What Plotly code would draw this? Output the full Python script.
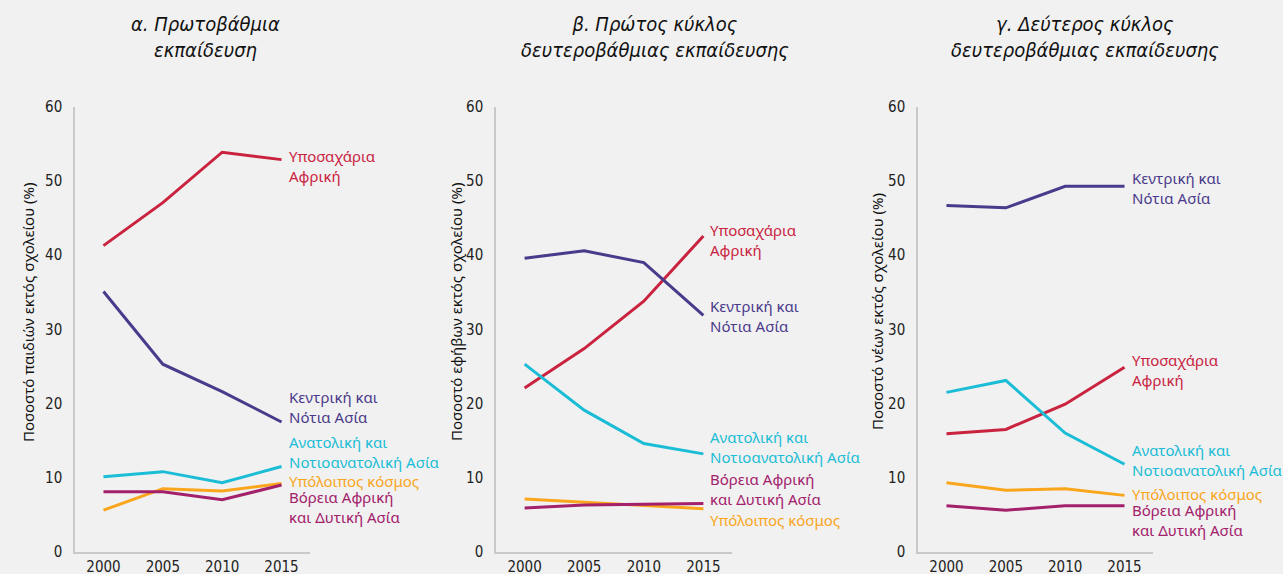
import plotly.graph_objects as go

years = [2000, 2005, 2010, 2015]

regions = ["Υποσαχάρια<br>Αφρική", "Κεντρική και<br>Νότια Ασία", "Ανατολική και<br>Νοτιοανατολική Ασία",
           "Υπόλοιπος κόσμος", "Βόρεια Αφρική<br>και Δυτική Ασία"]
colors = ["#c9233f", "#4a3a8b", "#1bbdd6", "#f9a61d", "#a3206b"]

# Panel a: primary
a_ssa = [41.3, 47.1, 53.9, 52.9]
a_csa = [35.1, 25.3, 21.6, 17.5]
a_esa = [10.1, 10.8, 9.3, 11.5]
a_row = [5.6, 8.5, 8.2, 9.2]
a_nawa = [8.1, 8.1, 7.0, 9.0]

# Panel b: lower secondary
b_ssa = [22.1, 27.4, 33.8, 42.6]
b_csa = [39.6, 40.6, 39.0, 31.9]
b_esa = [25.3, 19.1, 14.6, 13.2]
b_row = [7.1, 6.7, 6.3, 5.8]
b_nawa = [5.9, 6.3, 6.4, 6.5]

# Panel c: upper secondary
c_ssa = [15.9, 16.5, 19.9, 24.9]
c_csa = [46.7, 46.4, 49.3, 49.3]
c_esa = [21.5, 23.1, 16.0, 11.8]
c_row = [9.3, 8.3, 8.5, 7.6]
c_nawa = [6.2, 5.6, 6.2, 6.2]

panel_titles = ["<i>α. Πρωτοβάθμια<br>εκπαίδευση</i>",
                "<i>β. Πρώτος κύκλος<br>δευτεροβάθμιας εκπαίδευσης</i>",
                "<i>γ. Δεύτερος κύκλος<br>δευτεροβάθμιας εκπαίδευσης</i>"]
y_titles = ["Ποσοστό παιδιών εκτός σχολείου (%)",
            "Ποσοστό εφήβων εκτός σχολείου (%)",
            "Ποσοστό νέων εκτός σχολείου (%)"]
y_ticks = [0, 10, 20, 30, 40, 50, 60]

panels = [
    [a_ssa, a_csa, a_esa, a_row, a_nawa],
    [b_ssa, b_csa, b_esa, b_row, b_nawa],
    [c_ssa, c_csa, c_esa, c_row, c_nawa],
]
# label anchor heights (data units) for the end labels
label_y = [
    [52.0, 19.5, 13.5, 9.5, 6.0],
    [42.1, 31.8, 14.1, 4.3, 8.5],
    [24.5, 49.1, 12.4, 7.8, 4.3],
]

W, H = 1283, 574
x_px = [(75, 310), (496, 732), (918, 1153)]
y_top, y_bot = 107, 551.7
ydom = [(H - y_bot) / H, (H - y_top) / H]

tickfont = dict(family="Liberation Sans Narrow, DejaVu Sans Condensed, sans-serif", size=15, color="#222")
labfont_family = "Noto Sans, Open Sans, sans-serif"

fig = go.Figure()
layout = dict(
    width=W, height=H,
    paper_bgcolor="#f1f1f1", plot_bgcolor="#f1f1f1",
    margin=dict(l=0, r=0, t=0, b=0),
    showlegend=False,
)
annotations = []
for p in range(3):
    sfx = "" if p == 0 else str(p + 1)
    xa = "x" + sfx
    ya = "y" + sfx
    for i, series in enumerate(panels[p]):
        fig.add_trace(go.Scatter(x=years, y=series, mode="lines",
                                 line=dict(color=colors[i], width=3),
                                 xaxis=xa, yaxis=ya, hoverinfo="skip"))
        annotations.append(dict(x=years[-1], y=label_y[p][i], xref=xa, yref=ya,
                                text=regions[i], showarrow=False, xanchor="left", yanchor="middle",
                                xshift=5, align="left",
                                font=dict(family=labfont_family, size=15, color=colors[i])))
    x0, x1 = x_px[p]
    layout["xaxis" + sfx] = dict(
        domain=[x0 / W, x1 / W], range=[1997.6, 2017.4], anchor=ya,
        tickvals=years, showline=True, linecolor="#c9c9c9", linewidth=1.5,
        showgrid=False, zeroline=False, ticks="", tickfont=tickfont,
        ticklabelstandoff=1, automargin=False, fixedrange=True,
    )
    layout["yaxis" + sfx] = dict(
        domain=ydom, range=[0, 60], anchor=xa,
        tickvals=y_ticks, showline=True, linecolor="#c9c9c9", linewidth=1.5,
        showgrid=False, zeroline=False, ticks="", tickfont=tickfont,
        ticklabelstandoff=8, automargin=False, fixedrange=True,
    )
    # panel title
    tx = [205, 655, 1085][p]
    annotations.append(dict(x=tx / W, y=1 - 37 / H, xref="paper", yref="paper",
                            text=panel_titles[p], showarrow=False, xanchor="center", yanchor="middle",
                            font=dict(family="Liberation Sans Narrow, DejaVu Sans Condensed, sans-serif",
                                      size=20, color="#111")))
    # y axis title
    ax = [28, 456, 877][p]
    annotations.append(dict(x=ax / W, y=1 - 312 / H, xref="paper", yref="paper",
                            text=y_titles[p], showarrow=False, textangle=-90,
                            xanchor="center", yanchor="middle",
                            font=dict(family=labfont_family, size=15, color="#111")))

layout["annotations"] = annotations
fig.update_layout(**layout)
fig.write_html("out.html", config={"displayModeBar": False},
               post_script="document.body.style.margin='0';document.body.style.background='#f1f1f1';")
